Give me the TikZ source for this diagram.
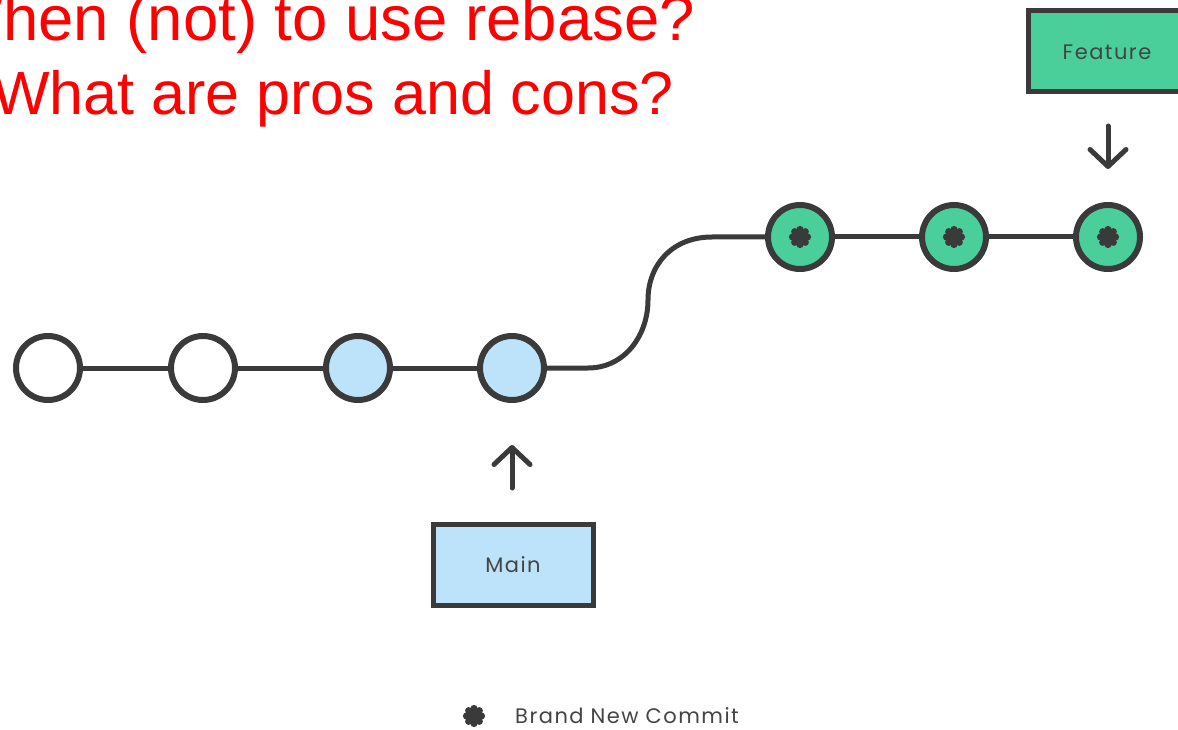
\documentclass[tikz,border=0pt]{standalone}
\usepackage{fontspec}
\setmainfont{Liberation Sans}
\newfontfamily\labelfont[LetterSpace=7]{Poppins}
\usetikzlibrary{arrows.meta}
\definecolor{ink}{HTML}{3A3A3A}
\definecolor{fgreen}{HTML}{4BCF9A}
\definecolor{lblue}{HTML}{BDE3FB}
\definecolor{txtgray}{HTML}{444444}
\tikzset{
  commit/.style={circle, draw=ink, line width=6pt, minimum size=64pt, inner sep=0pt},
  oldc/.style={commit, fill=white},
  mainc/.style={commit, fill=lblue},
  newc/.style={commit, fill=fgreen},
  link/.style={draw=ink, line width=5pt},
  lbl/.style={text=txtgray, font=\labelfont\fontsize{21}{24}\selectfont},
  branchbox/.style={draw=ink, line width=5pt, minimum width=160pt, minimum height=81pt, inner sep=0pt, lbl},
  pointer/.style={draw=ink, line width=5pt, line cap=round, -{Straight Barb[length=17pt, width=36pt, line cap=round, line join=round]}},
  title/.style={text=red, inner sep=0pt, anchor=base west},
  pics/newstar/.style={code={
    \fill[ink] (0,0) circle (7pt);
    \foreach \a in {0,45,...,315} \fill[ink] (\a:7.5pt) circle (3.6pt);
  }}
}
\begin{document}
\begin{tikzpicture}[x=1pt, y=-1pt]
\useasboundingbox (0,0) rectangle (1178,730);
\clip (0,0) rectangle (1178,730);
\fill[white] (0,0) rectangle (1178,730);
% title
\node[title, font=\fontsize{63.5}{72}\selectfont] (t1) at (-57,41) {When (not) to use rebase?};
\node[title, font=\fontsize{61}{72}\selectfont] (t2) at (-8,115) {What are pros and cons?};
% commits
\node[oldc] (c1) at (48,368) {};
\node[oldc] (c2) at (203,368) {};
\node[mainc] (c3) at (358,368) {};
\node[mainc] (c4) at (512,368) {};
\node[newc] (g1) at (800,237) {};
\node[newc] (g2) at (954,237) {};
\node[newc] (g3) at (1108,237) {};
\foreach \p in {g1,g2,g3} \pic at (\p) {newstar};
% links
\draw[link] (c1) -- (c2);
\draw[link] (c2) -- (c3);
\draw[link] (c3) -- (c4);
\draw[link] (g1) -- (g2);
\draw[link] (g2) -- (g3);
\coordinate (k1) at (588,368);
\coordinate (k2) at (648,300);
\coordinate (k3) at (712,237);
\draw[link] (c4) -- (k1) .. controls (625,368) and (648,335) .. (k2)
  .. controls (648,265) and (672,237) .. (k3) -- (g1);
% branch boxes
\node[branchbox, fill=lblue] (main) at (513,565) {Main};
\node[branchbox, fill=fgreen, anchor=west] (feature) at (1026,51) {\hspace*{0pt}};
\node[lbl] (ftext) at (1107,52) {Feature};
% pointers
\coordinate (ma) at (512,488);
\coordinate (mb) at (512,445);
\draw[pointer] (ma) -- (mb);
\coordinate (fa) at (1108,126);
\coordinate (fb) at (1108,169);
\draw[pointer] (fa) -- (fb);
% legend
\pic at (474,716) {newstar};
\node[lbl, anchor=west, inner sep=0pt] (legend) at (515,716) {Brand New Commit};
\end{tikzpicture}
\end{document}
